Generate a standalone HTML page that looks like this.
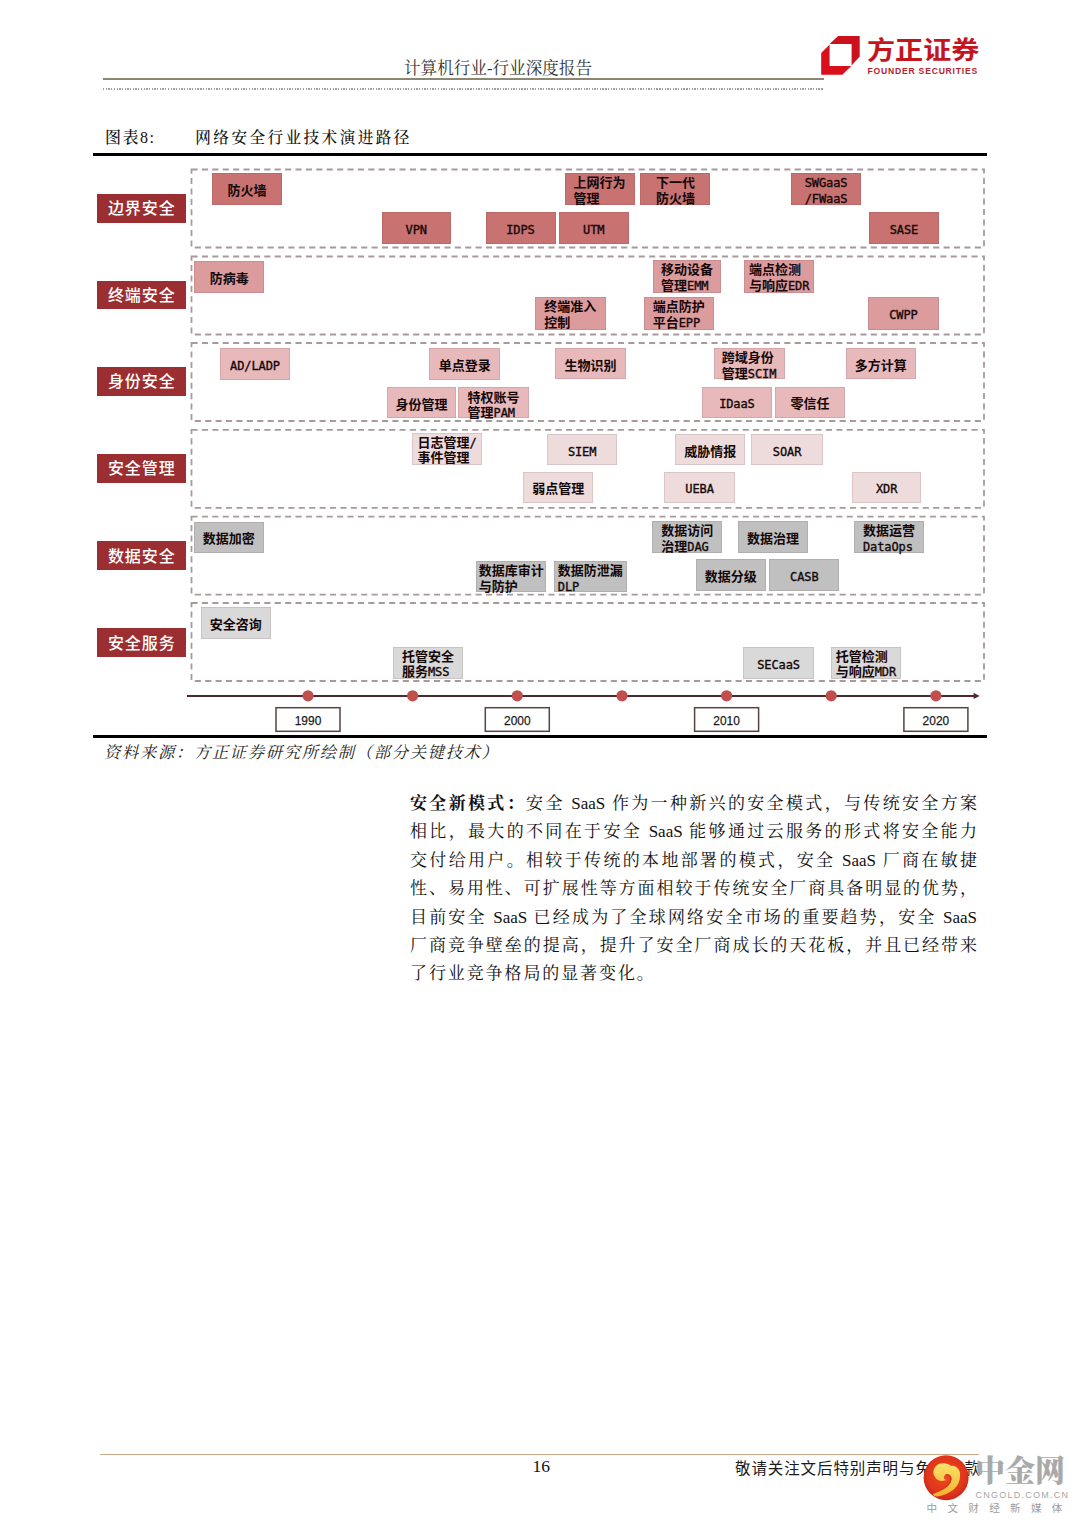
<!DOCTYPE html>
<html><head><meta charset="utf-8"><style>
*{margin:0;padding:0;box-sizing:border-box}
html,body{width:1080px;height:1527px;background:#fff;overflow:hidden;position:relative}
.a{position:absolute;white-space:nowrap}
.bx{position:absolute;overflow:visible;box-shadow:inset 0 0 0 0.7px rgba(90,60,60,0.18)}
.bx.A{background:#c87271}.bx.B{background:#dc9b9d}.bx.C{background:#e7b9bb}.bx.D{background:#eedcdc}.bx.E{background:#c0c0c0}.bx.F{background:#d9d9d9}
.t1{position:absolute;left:0;right:0;top:50%;margin-top:-6.1px;height:16px;text-align:center;font:bold 13px/16px 'Liberation Sans', 'Noto Sans CJK SC', sans-serif;color:#140808;white-space:nowrap}
.t2{position:absolute;left:0;right:0;top:2.2px;text-align:center;font:bold 13px/15.5px 'Liberation Sans', 'Noto Sans CJK SC', sans-serif;color:#140808;white-space:nowrap}
.ib{display:inline-block;text-align:left}
.lt{font:12px 'DejaVu Sans Mono', monospace;letter-spacing:-0.1px;-webkit-text-stroke:0.35px #140808}
.lab{position:absolute;left:96.5px;width:89.5px;height:28.5px;padding-top:1.3px;padding-left:1px;background:#9a2e30;color:#fff;font:500 16px/28.5px 'Liberation Sans', 'Noto Sans CJK SC', sans-serif;text-align:center;letter-spacing:0.9px}
.hd{font:16px/1 'Liberation Serif', 'Noto Serif CJK SC', serif;color:#333}
.para{position:absolute;left:410px;top:790px;width:567px;font:17px/28.4px 'Liberation Serif', 'Noto Serif CJK SC', serif;color:#111}
.pl{position:absolute;left:0;width:567px;text-align:justify;text-align-last:justify;white-space:nowrap}
.pl.last{text-align-last:left;letter-spacing:1.9px}
</style></head><body>
<!-- header -->
<div class="a hd" style="left:404px;top:60.5px;font-size:16.6px">计算机行业-行业深度报告</div>
<div class="a" style="left:103px;top:78px;width:721px;height:2px;background:#8c8772"></div>
<div class="a" style="left:103px;top:88px;width:720px;height:1.5px;background:repeating-linear-gradient(90deg,#a0a0a0 0 1.3px,transparent 1.3px 2.7px)"></div>
<!-- logo -->
<svg class="a" style="left:0;top:0" width="1080" height="100" viewBox="0 0 1080 100">
 <path d="M838.1 36 L859.7 36 L859.7 56.4 L851.6 65.4 L851.6 43.9 L829.6 43.9 Z" fill="#cc111c"/>
 <path d="M829.6 44.4 L829.6 65.9 L851.3 65.9 L842.3 74.7 L821.2 74.7 L821.2 53.1 Z" fill="#d9101b"/>
</svg>
<div class="a" style="left:867px;top:37.7px;font:bold 26px/1 'Liberation Sans', 'Noto Sans CJK SC', sans-serif;color:#c4141e;transform-origin:0 0;transform:scale(1.08,0.95)">方正证券</div>
<div class="a" style="left:867.5px;top:66.9px;font:bold 8.6px/1 'Liberation Sans', 'Noto Sans CJK SC', sans-serif;color:#b8222a;letter-spacing:0.78px">FOUNDER SECURITIES</div>
<!-- figure title -->
<div class="a" style="left:105px;top:129.5px;font:500 16px/1 'Liberation Serif', 'Noto Serif CJK SC', serif;color:#111;letter-spacing:1.5px">图表8:</div>
<div class="a" style="left:195.3px;top:130px;font:500 15.6px/1 'Liberation Serif', 'Noto Serif CJK SC', serif;color:#111;letter-spacing:2.45px">网络安全行业技术演进路径</div>
<div class="a" style="left:93px;top:153px;width:894px;height:3px;background:#000"></div>
<!-- chart -->
<svg class="a" style="left:0;top:0" width="1080" height="760" viewBox="0 0 1080 760">
<rect x="191.5" y="169.5" width="792.5" height="78" fill="none" stroke="#a89a9a" stroke-width="1.8" stroke-dasharray="6.1 4.3"/><rect x="191.5" y="256.5" width="792.5" height="78" fill="none" stroke="#a89a9a" stroke-width="1.8" stroke-dasharray="6.1 4.3"/><rect x="191.5" y="343" width="792.5" height="78" fill="none" stroke="#a89a9a" stroke-width="1.8" stroke-dasharray="6.1 4.3"/><rect x="191.5" y="429.8" width="792.5" height="78" fill="none" stroke="#a89a9a" stroke-width="1.8" stroke-dasharray="6.1 4.3"/><rect x="191.5" y="516.6" width="792.5" height="78" fill="none" stroke="#a89a9a" stroke-width="1.8" stroke-dasharray="6.1 4.3"/><rect x="191.5" y="603" width="792.5" height="78" fill="none" stroke="#a89a9a" stroke-width="1.8" stroke-dasharray="6.1 4.3"/><line x1="187" y1="695.9" x2="975" y2="695.9" stroke="#4d2b2b" stroke-width="2"/><path d="M973.6 692.7 L979.6 695.9 L973.6 699.1 Z" fill="#4d2b2b"/><circle cx="308.0" cy="695.8" r="5.6" fill="#c0504d"/><circle cx="412.6" cy="695.8" r="5.6" fill="#c0504d"/><circle cx="517.3" cy="695.8" r="5.6" fill="#c0504d"/><circle cx="622.0" cy="695.8" r="5.6" fill="#c0504d"/><circle cx="726.6" cy="695.8" r="5.6" fill="#c0504d"/><circle cx="831.2" cy="695.8" r="5.6" fill="#c0504d"/><circle cx="935.9" cy="695.8" r="5.6" fill="#c0504d"/><rect x="276.0" y="707.7" width="64" height="23.6" fill="#fff" stroke="#5a4242" stroke-width="1.5"/><text x="294.7" y="724.6" font-family="Liberation Sans, sans-serif" font-size="13.2" textLength="26.6" lengthAdjust="spacingAndGlyphs" fill="#1a1a1a" stroke="#1a1a1a" stroke-width="0.25">1990</text><rect x="485.3" y="707.7" width="64" height="23.6" fill="#fff" stroke="#5a4242" stroke-width="1.5"/><text x="504.0" y="724.6" font-family="Liberation Sans, sans-serif" font-size="13.2" textLength="26.6" lengthAdjust="spacingAndGlyphs" fill="#1a1a1a" stroke="#1a1a1a" stroke-width="0.25">2000</text><rect x="694.6" y="707.7" width="64" height="23.6" fill="#fff" stroke="#5a4242" stroke-width="1.5"/><text x="713.3" y="724.6" font-family="Liberation Sans, sans-serif" font-size="13.2" textLength="26.6" lengthAdjust="spacingAndGlyphs" fill="#1a1a1a" stroke="#1a1a1a" stroke-width="0.25">2010</text><rect x="903.9" y="707.7" width="64" height="23.6" fill="#fff" stroke="#5a4242" stroke-width="1.5"/><text x="922.6" y="724.6" font-family="Liberation Sans, sans-serif" font-size="13.2" textLength="26.6" lengthAdjust="spacingAndGlyphs" fill="#1a1a1a" stroke="#1a1a1a" stroke-width="0.25">2020</text>
</svg>
<div class="lab" style="top:194px">边界安全</div><div class="lab" style="top:280.6px">终端安全</div><div class="lab" style="top:367px">身份安全</div><div class="lab" style="top:454px">安全管理</div><div class="lab" style="top:541.3px">数据安全</div><div class="lab" style="top:628.3px">安全服务</div>
<div class="bx A" style="left:212.0px;top:173.0px;width:70.0px;height:32.0px"><div class="t1">防火墙</div></div><div class="bx A" style="left:381.5px;top:212.0px;width:69.5px;height:31.5px"><div class="t1"><span class="lt">VPN</span></div></div><div class="bx A" style="left:485.5px;top:212.0px;width:70.0px;height:31.5px"><div class="t1"><span class="lt">IDPS</span></div></div><div class="bx A" style="left:558.8px;top:212.0px;width:70.0px;height:31.5px"><div class="t1"><span class="lt">UTM</span></div></div><div class="bx A" style="left:564.6px;top:173.0px;width:70.0px;height:32.0px"><div class="t2"><span class="ib">上网行为<br>管理</span></div></div><div class="bx A" style="left:640.3px;top:173.0px;width:70.2px;height:32.0px"><div class="t2"><span class="ib">下一代<br>防火墙</span></div></div><div class="bx A" style="left:791.0px;top:173.0px;width:70.2px;height:32.0px"><div class="t2"><span class="ib"><span class="lt">SWGaaS</span><br><span class="lt">/FWaaS</span></span></div></div><div class="bx A" style="left:868.8px;top:212.0px;width:70.2px;height:31.5px"><div class="t1"><span class="lt">SASE</span></div></div><div class="bx B" style="left:194.0px;top:261.0px;width:70.3px;height:31.6px"><div class="t1">防病毒</div></div><div class="bx B" style="left:652.8px;top:260.2px;width:68.5px;height:32.4px"><div class="t2"><span class="ib">移动设备<br>管理<span class="lt">EMM</span></span></div></div><div class="bx B" style="left:744.4px;top:260.2px;width:69.5px;height:32.4px"><div class="t2"><span class="ib">端点检测<br>与响应<span class="lt">EDR</span></span></div></div><div class="bx B" style="left:534.7px;top:297.2px;width:70.9px;height:32.4px"><div class="t2"><span class="ib">终端准入<br>控制</span></div></div><div class="bx B" style="left:643.5px;top:297.2px;width:70.4px;height:32.4px"><div class="t2"><span class="ib">端点防护<br>平台<span class="lt">EPP</span></span></div></div><div class="bx B" style="left:868.0px;top:297.2px;width:70.9px;height:32.4px"><div class="t1"><span class="lt">CWPP</span></div></div><div class="bx C" style="left:219.9px;top:347.8px;width:70.3px;height:31.9px"><div class="t1"><span class="lt">AD/LADP</span></div></div><div class="bx C" style="left:429.4px;top:347.8px;width:70.7px;height:31.9px"><div class="t1">单点登录</div></div><div class="bx C" style="left:555.2px;top:348.0px;width:70.5px;height:31.4px"><div class="t1">生物识别</div></div><div class="bx C" style="left:713.6px;top:348.0px;width:71.0px;height:31.4px"><div class="t2"><span class="ib">跨域身份<br>管理<span class="lt">SCIM</span></span></div></div><div class="bx C" style="left:845.5px;top:348.0px;width:70.5px;height:31.4px"><div class="t1">多方计算</div></div><div class="bx C" style="left:386.8px;top:387.4px;width:69.5px;height:30.6px"><div class="t1">身份管理</div></div><div class="bx C" style="left:458.4px;top:387.4px;width:70.3px;height:30.6px"><div class="t2"><span class="ib">特权账号<br>管理<span class="lt">PAM</span></span></div></div><div class="bx C" style="left:701.9px;top:387.2px;width:70.1px;height:30.5px"><div class="t1"><span class="lt">IDaaS</span></div></div><div class="bx C" style="left:775.0px;top:387.2px;width:70.0px;height:30.5px"><div class="t1">零信任</div></div><div class="bx D" style="left:412.4px;top:432.8px;width:69.4px;height:31.9px"><div class="t2"><span class="ib">日志管理<span class="lt">/</span><br>事件管理</span></div></div><div class="bx D" style="left:547.2px;top:433.9px;width:69.9px;height:31.5px"><div class="t1"><span class="lt">SIEM</span></div></div><div class="bx D" style="left:675.0px;top:433.9px;width:70.4px;height:31.5px"><div class="t1">威胁情报</div></div><div class="bx D" style="left:751.4px;top:433.9px;width:71.3px;height:31.5px"><div class="t1"><span class="lt">SOAR</span></div></div><div class="bx D" style="left:523.1px;top:471.9px;width:70.4px;height:31.4px"><div class="t1">弱点管理</div></div><div class="bx D" style="left:664.4px;top:471.9px;width:70.3px;height:31.4px"><div class="t1"><span class="lt">UEBA</span></div></div><div class="bx D" style="left:851.9px;top:471.9px;width:69.4px;height:31.4px"><div class="t1"><span class="lt">XDR</span></div></div><div class="bx E" style="left:193.7px;top:522.0px;width:70.0px;height:30.7px"><div class="t1">数据加密</div></div><div class="bx E" style="left:652.3px;top:521.0px;width:70.0px;height:31.7px"><div class="t2"><span class="ib">数据访问<br>治理<span class="lt">DAG</span></span></div></div><div class="bx E" style="left:738.3px;top:521.0px;width:69.4px;height:31.7px"><div class="t1">数据治理</div></div><div class="bx E" style="left:854.0px;top:521.0px;width:70.0px;height:31.7px"><div class="t2"><span class="ib">数据运营<br><span class="lt">DataOps</span></span></div></div><div class="bx E" style="left:476.3px;top:561.0px;width:70.0px;height:31.0px"><div class="t2"><span class="ib">数据库审计<br>与防护</span></div></div><div class="bx E" style="left:554.0px;top:561.0px;width:72.7px;height:31.0px"><div class="t2"><span class="ib">数据防泄漏<br><span class="lt">DLP</span></span></div></div><div class="bx E" style="left:696.0px;top:559.3px;width:69.7px;height:31.7px"><div class="t1">数据分级</div></div><div class="bx E" style="left:769.3px;top:559.3px;width:70.0px;height:31.7px"><div class="t1"><span class="lt">CASB</span></div></div><div class="bx F" style="left:200.7px;top:607.0px;width:70.3px;height:32.0px"><div class="t1">安全咨询</div></div><div class="bx F" style="left:393.2px;top:646.6px;width:69.5px;height:32.8px"><div class="t2"><span class="ib">托管安全<br>服务<span class="lt">MSS</span></span></div></div><div class="bx F" style="left:743.2px;top:646.6px;width:70.7px;height:32.0px"><div class="t1"><span class="lt">SECaaS</span></div></div><div class="bx F" style="left:830.5px;top:646.6px;width:70.7px;height:32.0px"><div class="t2"><span class="ib">托管检测<br>与响应<span class="lt">MDR</span></span></div></div>
<div class="a" style="left:93px;top:734.5px;width:894px;height:3px;background:#000"></div>
<div class="a" style="left:104px;top:744.5px;font:italic 16.3px/1 'Liberation Serif', 'Noto Serif CJK SC', serif;color:#222;letter-spacing:1.7px">资料来源：方正证券研究所绘制（部分关键技术）</div>
<!-- paragraph -->
<div class="para"><div class="pl" style="top:0.0px"><b>安全新模式：</b>安全 SaaS 作为一种新兴的安全模式，与传统安全方案</div><div class="pl" style="top:28.4px">相比，最大的不同在于安全 SaaS 能够通过云服务的形式将安全能力</div><div class="pl" style="top:56.8px">交付给用户。相较于传统的本地部署的模式，安全 SaaS 厂商在敏捷</div><div class="pl" style="top:85.2px">性、易用性、可扩展性等方面相较于传统安全厂商具备明显的优势，</div><div class="pl" style="top:113.6px">目前安全 SaaS 已经成为了全球网络安全市场的重要趋势，安全 SaaS</div><div class="pl" style="top:142.0px">厂商竞争壁垒的提高，提升了安全厂商成长的天花板，并且已经带来</div><div class="pl last" style="top:170.4px">了行业竞争格局的显著变化。</div></div>
<!-- footer -->
<div class="a" style="left:100px;top:1453.7px;width:879px;height:1.6px;background:#caa98a"></div>
<div class="a" style="left:532.5px;top:1457.5px;font:17.5px/1 'Liberation Serif', 'Noto Serif CJK SC', serif;color:#111">16</div>
<div class="a" style="left:735px;top:1461px;font:15.5px/1 'Liberation Sans', 'Noto Sans CJK SC', sans-serif;color:#1a1a1a;letter-spacing:0.9px">敬请关注文后特别声明与免责条款</div>
<!-- watermark -->
<svg class="a" style="left:0;top:1440px" width="1080" height="87" viewBox="0 1440 1080 87">
 <defs><radialGradient id="rg" cx="50%" cy="45%" r="55%"><stop offset="0" stop-color="#ee4a20"/><stop offset="0.75" stop-color="#e0361c"/><stop offset="1" stop-color="#c8281a"/></radialGradient>
 <linearGradient id="yg" x1="0" y1="0" x2="0" y2="1"><stop offset="0" stop-color="#fbe26a"/><stop offset="1" stop-color="#f2b22e"/></linearGradient></defs>
 <circle cx="946.1" cy="1477.7" r="22.5" fill="url(#rg)"/>
 <path d="M936 1466 C940 1462 948 1463 951 1466 C956 1465 961 1470 960 1476 C960 1486 952 1493 940 1496 C936 1497 933 1496 933 1494 C942 1491 949 1486 951 1479 C951 1476 948 1474 945.5 1475 C943 1476 943.5 1479 946 1480 C942 1482 937 1481 935 1477 C932.5 1474 933 1469 936 1466 Z" fill="url(#yg)"/>
 <path d="M945.5 1475 C948 1474 951 1476 951 1479 C950 1484 945 1488 940 1490" fill="none" stroke="#d8361c" stroke-width="1.6"/>
</svg>
<div class="a" style="left:975px;top:1456px;font:900 30px/1 'Liberation Serif', 'Noto Serif CJK SC', serif;color:#a9a9a9;letter-spacing:0px">中金网</div>
<div class="a" style="left:975.5px;top:1491.3px;font:9px/1 'Liberation Sans', sans-serif;color:#a5a5a5;letter-spacing:1.25px">CNGOLD.COM.CN</div>
<div class="a" style="left:926.5px;top:1503px;font:10.6px/1 'Liberation Sans', 'Noto Sans CJK SC', sans-serif;color:#9c9c9c;letter-spacing:10.3px">中文财经新媒体</div>
</body></html>
